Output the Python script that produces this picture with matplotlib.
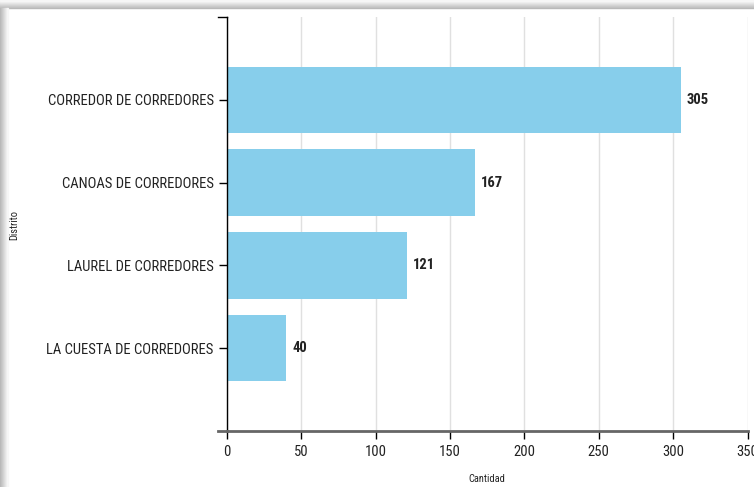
import matplotlib.pyplot as plt
import matplotlib.patches as mpatches
import numpy as np

# Datos
distritos = ["CORREDOR DE CORREDORES", "CANOAS DE CORREDORES",
             "LAUREL DE CORREDORES", "LA CUESTA DE CORREDORES"]
cantidad = [305, 167, 121, 40]
xticks = [0, 50, 100, 150, 200, 250, 300, 350]

plt.rcParams['font.family'] = ['Roboto Condensed', 'Liberation Sans', 'DejaVu Sans']

fig = plt.figure(figsize=(7.54, 4.87), dpi=100)

# borde sombreado (arriba e izquierda)
for i in range(8):
    g = 0.72 + i * 0.035
    fig.patches.append(mpatches.Rectangle((0, 1 - (8 - i) / 487), 1, 1 / 487,
                                          transform=fig.transFigure, color=str(g), zorder=0))
    fig.patches.append(mpatches.Rectangle((i / 754, 0), 1 / 754, 1 - 8 / 487,
                                          transform=fig.transFigure, color=str(g), zorder=0))

ax = fig.add_axes([227 / 754, 56 / 487, 520.5 / 754, 414 / 487])

y = np.arange(1, len(distritos) + 1)
ax.barh(y, cantidad, height=0.8, color="#87CEEB", zorder=2)

for yi, v in zip(y, cantidad):
    ax.text(v + 4, yi, str(v), va="center", ha="left", fontsize=10.5,
            fontweight="bold", color="#222222")

ax.set_xlim(0, 350)
ax.set_ylim(5, 0)
ax.set_xticks(xticks)
ax.set_yticks(y)
ax.set_yticklabels(distritos)
ax.tick_params(axis="both", labelsize=10.5, length=6, width=1, colors="black",
               labelcolor="#222222")
ax.tick_params(axis="x", pad=4)

ax.grid(axis="x", color="#e0e0e0", linewidth=1, zorder=0)
ax.set_axisbelow(True)

for s in ["top", "right"]:
    ax.spines[s].set_visible(False)
ax.spines["left"].set_color("black")
ax.spines["left"].set_linewidth(1)
ax.spines["bottom"].set_color("#666666")
ax.spines["bottom"].set_linewidth(2)

# remates del eje vertical
ax.plot([-6, 0], [0, 0], color="black", lw=1, clip_on=False, zorder=3)
ax.plot([-6, 0], [5, 5], color="#666666", lw=2, clip_on=False, zorder=3)

fig.text(487 / 754, 1 - 479 / 487, "Cantidad", fontsize=7.5,
         ha="center", va="center", color="#222222")
fig.text(14 / 754, 1 - 225 / 487, "Distrito", rotation=90, fontsize=7.5,
         ha="center", va="center", color="#222222")

plt.savefig("out.png", dpi=100)
